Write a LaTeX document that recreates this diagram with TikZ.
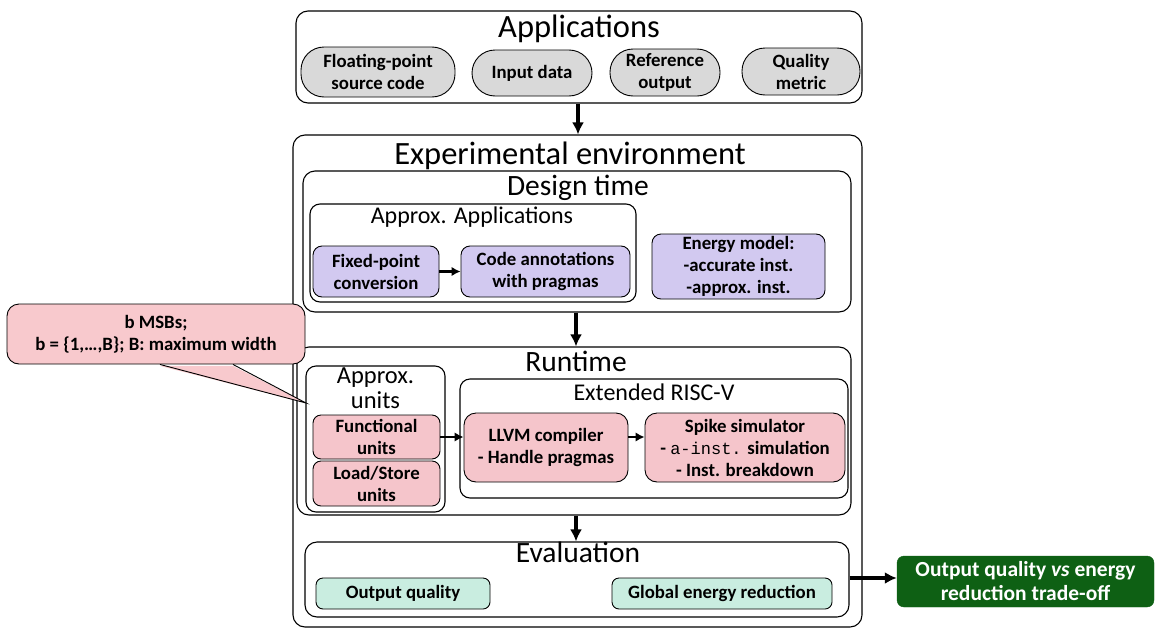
\documentclass[tikz,border=0pt]{standalone}
\usepackage{fontspec}
\setmainfont{Carlito}
\newfontfamily\monof{Liberation Mono}
\usetikzlibrary{arrows.meta}
\definecolor{pillgray}{HTML}{D9D9D9}
\definecolor{lav}{HTML}{D2C9F0}
\definecolor{pinkc}{HTML}{F5C5CB}
\definecolor{calloutc}{HTML}{F8C9CD}
\definecolor{mint}{HTML}{C9EDE0}
\definecolor{dgreen}{HTML}{0E6014}
\begin{document}
\begin{tikzpicture}[x=1pt,y=-1pt,
  container/.style={draw, line width=1.1pt, rounded corners=12pt, inner sep=0pt},
  subbox/.style={draw, line width=1.1pt, rounded corners=10pt, inner sep=0pt},
  boxfont/.style={font=\fontsize{18.8}{22}\selectfont\bfseries},
  pill/.style={draw, line width=0.9pt, fill=pillgray, rounded corners=23pt, inner sep=0pt, align=center, boxfont},
  lavbox/.style={draw, line width=0.9pt, fill=lav, rounded corners=9pt, inner sep=0pt, align=center, boxfont},
  pinkbox/.style={draw, line width=0.9pt, fill=pinkc, rounded corners=8pt, inner sep=0pt, align=center, boxfont},
  mintbox/.style={draw, line width=0.9pt, fill=mint, rounded corners=7pt, inner sep=0pt, align=center, boxfont},
  bigtitle/.style={anchor=base, inner sep=0pt, font=\fontsize{32.5}{36}\selectfont},
  midtitle/.style={anchor=base, inner sep=0pt, font=\fontsize{29.5}{32}\selectfont},
  smalltitle/.style={anchor=base, inner sep=0pt, font=\fontsize{24}{28}\selectfont},
  bigarrow/.style={line width=3.2pt, -{Latex[length=12pt,width=12pt]}},
  smallarrow/.style={line width=2.8pt, -{Latex[length=9pt,width=9.5pt]}}
]
\useasboundingbox (0,0) rectangle (1155,629);

% Applications
\node[container, minimum width=566pt, minimum height=92pt] (apps) at (579,57) {};
\node[bigtitle] (appsT) at (579,37) {Applications};
\node[pill, minimum width=154pt, minimum height=50pt] (fp) at (378,72) {Floating-point\\source code};
\node[pill, minimum width=120pt, minimum height=46pt] (inp) at (532,73) {Input data};
\node[pill, minimum width=110pt, minimum height=47pt] (ref) at (665,72.5) {Reference\\output};
\node[pill, minimum width=118pt, minimum height=47pt] (qm) at (801,71.5) {Quality\\metric};

% Experimental environment
\node[container, minimum width=569pt, minimum height=492pt] (exp) at (577.5,381) {};
\node[bigtitle] (expT) at (570,164) {Experimental environment};

% Design time
\node[container, minimum width=548pt, minimum height=141pt] (design) at (577,241.5) {};
\node[midtitle] (designT) at (578,195) {Design time};
\node[subbox, minimum width=326pt, minimum height=98pt] (aapps) at (473,253) {};
\node[smalltitle] (aappsT) at (472,223) {Approx. Applications};
\node[lavbox, minimum width=126pt, minimum height=51pt] (fixed) at (376,271.5) {Fixed-point\\conversion};
\node[lavbox, minimum width=169pt, minimum height=51pt] (code) at (545.5,271.5) {Code annotations\\with pragmas};
\node[lavbox, minimum width=173pt, minimum height=65pt] (energy) at (738.5,266.5) {Energy model:\\-accurate inst.\\-approx. inst.};

% Runtime
\node[container, minimum width=554pt, minimum height=168pt] (run) at (574,431) {};
\node[midtitle] (runT) at (576,371) {Runtime};
\node[subbox, minimum width=139pt, minimum height=146pt] (aunits) at (375.5,439) {};
\node[anchor=base, inner sep=0pt, font=\fontsize{24.5}{27}\selectfont] (aunitsT1) at (375.5,383) {Approx.};
\node[anchor=base, inner sep=0pt, font=\fontsize{24.5}{27}\selectfont] (aunitsT2) at (375.5,408) {units};
\node[pinkbox, minimum width=127pt, minimum height=44pt] (func) at (376.5,437) {Functional\\units};
\node[pinkbox, minimum width=127pt, minimum height=45pt] (ls) at (376.5,483.5) {Load/Store\\units};
\node[subbox, minimum width=388pt, minimum height=119pt] (risc) at (654,438.5) {};
\node[smalltitle] (riscT) at (654,400) {Extended RISC-V};
\node[pinkbox, minimum width=164pt, minimum height=69pt, rounded corners=12pt] (llvm) at (546,447.5) {LLVM compiler\\- Handle pragmas};
\node[pinkbox, minimum width=200pt, minimum height=69pt, rounded corners=12pt] (spike) at (745,447.5) {Spike simulator\\- {\monof\mdseries\fontsize{17}{22}\selectfont a-inst.} simulation\\- Inst. breakdown};

% Evaluation
\node[container, minimum width=544pt, minimum height=75pt] (eval) at (577,579.5) {};
\node[midtitle] (evalT) at (578,562) {Evaluation};
\node[mintbox, minimum width=174pt, minimum height=31pt] (oq) at (403,593.5) {Output quality};
\node[mintbox, minimum width=220pt, minimum height=31pt] (ger) at (722,593.5) {Global energy reduction};

% Trade-off
\node[draw=dgreen, fill=dgreen, rounded corners=7pt, inner sep=0pt, minimum width=257pt, minimum height=51pt, text=white, align=center, font=\fontsize{21.5}{24}\selectfont\bfseries] (trade) at (1025.5,581.5) {Output quality \textit{vs} energy\\reduction trade-off};

% Callout
\node[draw, line width=0.9pt, fill=calloutc, rounded corners=12pt, inner sep=0pt, minimum width=298pt, minimum height=60pt, align=center, boxfont] (note) at (156,334) {b MSBs;\\b = \{1,\ldots,B\}; B: maximum width};
\coordinate (tip) at (306,403);
\fill[calloutc] ([xshift=4pt,yshift=-1.5pt]note.south) -- (tip) -- ([xshift=77pt,yshift=-1.5pt]note.south) -- cycle;
\draw[line width=0.9pt] ([xshift=4pt]note.south) -- (tip) -- ([xshift=77pt]note.south);

% Arrows
\draw[bigarrow] (apps.south -| 578,0) -- (exp.north -| 578,0);
\draw[bigarrow] (design.south -| 576,0) -- (run.north -| 576,0);
\draw[bigarrow] (run.south -| 576,0) -- (eval.north -| 576,0);
\draw[bigarrow] (eval.east |- 0,578) -- (trade.west |- 0,578);
\draw[smallarrow] (fixed.east) -- (code.west);
\draw[smallarrow] (func.east) -- (llvm.west |- func.east);
\draw[smallarrow] (llvm.east |- func.east) -- (spike.west |- func.east);
\end{tikzpicture}
\end{document}
